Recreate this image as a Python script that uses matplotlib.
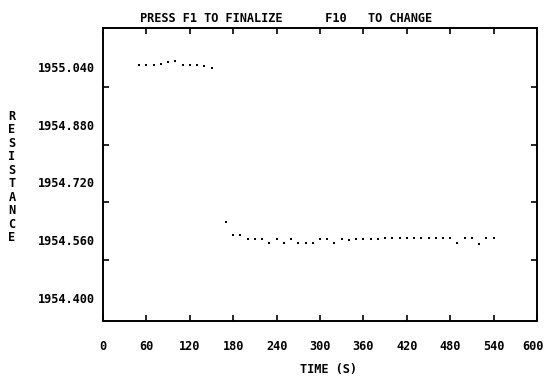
import matplotlib
matplotlib.use("Agg")
import matplotlib.pyplot as plt
import matplotlib.transforms as mtransforms

# ---- data ----
time1 = [50, 60, 70, 80, 90, 100, 110, 120, 130, 140, 150]
res1 = [1955.045, 1955.045, 1955.045, 1955.047, 1955.054, 1955.056,
        1955.045, 1955.045, 1955.046, 1955.044, 1955.036]

time2 = list(range(170, 541, 10))
res2 = [1954.610, 1954.575, 1954.575, 1954.563, 1954.563, 1954.564,
        1954.552, 1954.564, 1954.552, 1954.563, 1954.552, 1954.552,
        1954.552, 1954.563, 1954.563, 1954.553, 1954.564, 1954.561,
        1954.563, 1954.564, 1954.564, 1954.564,
        1954.565, 1954.565, 1954.565, 1954.565, 1954.565,
        1954.565, 1954.565, 1954.565, 1954.565, 1954.565,
        1954.552, 1954.565, 1954.565, 1954.550, 1954.565, 1954.565]

x_ticks = [0, 60, 120, 180, 240, 300, 360, 420, 480, 540, 600]
y_labels = [1954.400, 1954.560, 1954.720, 1954.880, 1955.040]
title = "PRESS F1 TO FINALIZE      F10   TO CHANGE"
ylabel = "RESISTANCE"
xlabel = "TIME (S)"

FONT = dict(family="DejaVu Sans Mono", weight="bold", size=8.6)

fig = plt.figure(figsize=(5.45, 3.77), dpi=100)
ax = fig.add_axes([103/545, 1-321/377, (537-103)/545, (321-28)/377])

ax.plot(time1, res1, 's', color='black', markersize=1.7, markeredgewidth=0)
ax.plot(time2, res2, 's', color='black', markersize=1.7, markeredgewidth=0)

ax.set_xlim(0, 600)
ax.set_ylim(1954.336, 1955.148)

# x ticks inward top & bottom
ax.set_xticks(x_ticks)
ax.set_xticklabels([str(t) for t in x_ticks], **FONT)
ax.tick_params(axis='x', direction='in', length=4, width=1.2, top=True,
               pad=14, color='black')
last = ax.get_xticklabels()[-1]
last.set_transform(last.get_transform() +
                   mtransforms.ScaledTranslation(-4/100, 0, fig.dpi_scale_trans))

# y labels at values, tick marks offset (as in the original display)
ax.set_yticks(y_labels)
ax.set_yticklabels([f"{v:.3f}" for v in y_labels], **FONT)
ax.tick_params(axis='y', which='major', length=0, pad=6)
ax.set_yticks([v + 0.16 - 0.055 for v in y_labels[:-1]], minor=True)
ax.tick_params(axis='y', which='minor', direction='in', length=4, width=1.2,
               left=True, right=True)
ax.tick_params(axis='x', which='minor', bottom=False, top=False)

for s in ax.spines.values():
    s.set_linewidth(1.4)
    s.set_color('black')

fig.text(140/545, 1-18/377, title, ha='left', va='center', **FONT)
fig.text(12/545, 1-177/377, "\n".join(ylabel), ha='center', va='center',
         linespacing=1.05, **FONT)
fig.text(328/545, 1-370/377, xlabel, ha='center', va='center', **FONT)

fig.savefig("out.png", dpi=100)
